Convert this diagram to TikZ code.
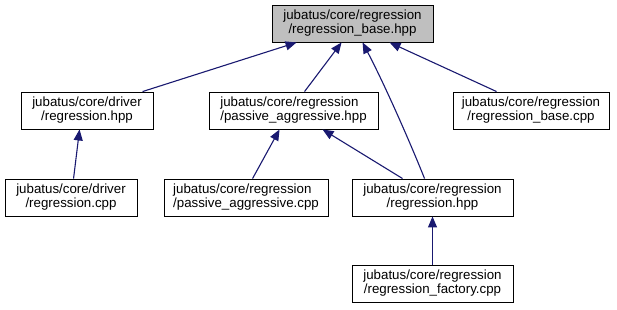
\documentclass[tikz,border=0pt]{standalone}
\usepackage{fontspec}
\setmainfont{Liberation Sans}
\usetikzlibrary{arrows.meta,calc}
\definecolor{edgeblue}{HTML}{191970}
\definecolor{rootfill}{HTML}{BFBFBF}
\begin{document}
\begin{tikzpicture}[x=1pt,y=-1pt,
  filebox/.style={draw=black, line width=0.9pt, rectangle, inner sep=0pt,
    minimum height=37pt, align=center,
    font=\fontsize{13.3}{14}\selectfont},
  leftbox/.style={filebox, align=left},
  dep/.style={draw=edgeblue, line width=1.1pt,
    -{Triangle[length=11pt,width=9pt]}, color=edgeblue}]
\useasboundingbox (0,0) rectangle (617,309);

% file nodes
\node[filebox, fill=rootfill, minimum width=161pt] (base) at (352.5,23.5)
  {jubatus/core/regression\\/regression\_base.hpp};
\node[filebox, minimum width=132pt] (dhpp) at (87,110.5)
  {jubatus/core/driver\\/regression.hpp};
\node[leftbox, minimum width=169pt] (pahpp) at (293.5,110.5)
  {jubatus/core/regression\\/passive\_aggressive.hpp};
\node[filebox, minimum width=156pt] (bcpp) at (531,110.5)
  {jubatus/core/regression\\/regression\_base.cpp};
\node[filebox, minimum width=132pt] (dcpp) at (71,197.5)
  {jubatus/core/driver\\/regression.cpp};
\node[leftbox, minimum width=164pt] (pacpp) at (246,197.5)
  {jubatus/core/regression\\/passive\_aggressive.cpp};
\node[filebox, minimum width=161pt] (rhpp) at (432.5,197.5)
  {jubatus/core/regression\\/regression.hpp};
\node[filebox, minimum width=161pt] (fcpp) at (432.5,283.5)
  {jubatus/core/regression\\/regression\_factory.cpp};

% include dependencies
\draw[dep] ($(dhpp.north west)+(122,0)$) -- ($(base.south west)+(25,0)$);
\draw[dep] ($(pahpp.north west)+(96,0)$) -- ($(base.south west)+(70,0)$);
\draw[dep] ($(rhpp.north west)+(73,0)$)
  .. controls ($(rhpp.north west)+(57,-40)$) and ($(base.south west)+(112,40)$)
  .. ($(base.south west)+(91,0)$);
\draw[dep] ($(bcpp.north west)+(44,0)$) -- ($(base.south west)+(118,0)$);
\draw[dep] ($(dcpp.north west)+(69,0)$) -- ($(dhpp.south west)+(59,0)$);
\draw[dep] ($(pacpp.north west)+(89,0)$) -- ($(pahpp.south west)+(71,0)$);
\draw[dep] ($(rhpp.north west)+(51,0)$) -- ($(pahpp.south west)+(114,0)$);
\draw[dep] (fcpp.north) -- (rhpp.south);
\end{tikzpicture}
\end{document}
